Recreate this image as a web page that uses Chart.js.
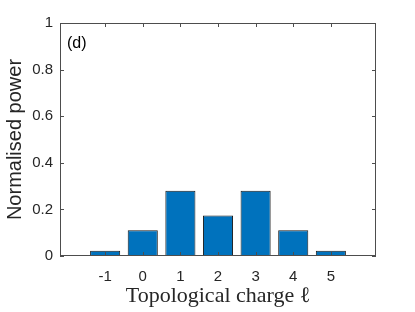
<!DOCTYPE html>
<html>
<head>
<meta charset="utf-8">
<script src="https://cdn.jsdelivr.net/npm/chart.js@4"></script>
<style>
  html, body { margin: 0; padding: 0; background: #fff; }
  #wrap { width: 415px; height: 312px; position: relative; }
</style>
</head>
<body>
<div id="wrap"><canvas id="chart"></canvas></div>
<script>
const charges = [-1, 0, 1, 2, 3, 4, 5];
const power = [0.023, 0.11, 0.28, 0.174, 0.28, 0.11, 0.023];
const xTicks = [-1, 0, 1, 2, 3, 4, 5];
const yTicks = [0, 0.2, 0.4, 0.6, 0.8, 1];
const panelLabel = '(d)';

const axisColor = '#4d4d4d';
const textColor = '#262626';

// box around the axes + inward ticks on all four sides, like matlab
const boxPlugin = {
    id: 'box',
    afterDatasetsDraw(chart) {
        const { ctx, chartArea: a, scales } = chart;
        const len = 4;
        ctx.save();
        ctx.strokeStyle = axisColor;
        ctx.lineWidth = 1;
        ctx.strokeRect(a.left + 0.5, a.top + 0.5, a.right - a.left - 1, a.bottom - a.top - 1);
        ctx.beginPath();
        xTicks.forEach(v => {
            const x = Math.round(scales.x.getPixelForValue(v)) + 0.5;
            ctx.moveTo(x, a.bottom); ctx.lineTo(x, a.bottom - len);
            ctx.moveTo(x, a.top); ctx.lineTo(x, a.top + len);
        });
        yTicks.forEach(v => {
            const y = Math.round(scales.y.getPixelForValue(v)) + 0.5;
            ctx.moveTo(a.left, y); ctx.lineTo(a.left + len, y);
            ctx.moveTo(a.right, y); ctx.lineTo(a.right - len, y);
        });
        ctx.stroke();

        ctx.fillStyle = '#000';
        ctx.font = '16px "Liberation Sans", Arial, sans-serif';
        ctx.textBaseline = 'middle';
        ctx.fillText(panelLabel, a.left + 7, a.top + 21);
        ctx.restore();
    }
};

new Chart(document.getElementById('chart'), {
    type: 'bar',
    data: {
        datasets: [{
            data: charges.map((c, i) => ({ x: c, y: power[i] })),
            backgroundColor: '#0072BD',
            borderColor: '#1a1a1a',
            borderWidth: 1,
            barPercentage: 0.8,
            categoryPercentage: 1.0
        }]
    },
    options: {
        responsive: true,
        maintainAspectRatio: false,
        animation: false,
        layout: { padding: { top: 23, right: 39, left: 0, bottom: 0 } },
        plugins: { legend: { display: false }, tooltip: { enabled: false } },
        scales: {
            x: {
                type: 'linear',
                offset: false,
                min: -2.2,
                max: 6.2,
                afterFit: s => { s.height = 56; },
                afterBuildTicks: s => { s.ticks = xTicks.map(v => ({ value: v })); },
                grid: { display: false, drawTicks: false, offset: false },
                border: { display: false },
                ticks: {
                    color: textColor,
                    padding: 12,
                    font: { family: '"Liberation Sans", Arial, sans-serif', size: 15 },
                    callback: v => String(v)
                },
                title: {
                    display: true,
                    text: 'Topological charge ℓ',
                    color: textColor,
                    padding: { top: 0, bottom: 3 },
                    font: { family: '"Liberation Serif", "Times New Roman", serif', size: 22 }
                }
            },
            y: {
                min: 0,
                max: 1,
                afterFit: s => { s.width = 60; },
                afterBuildTicks: s => { s.ticks = yTicks.map(v => ({ value: v })); },
                grid: { display: false, drawTicks: false },
                border: { display: false },
                ticks: {
                    color: textColor,
                    padding: 7,
                    font: { family: '"Liberation Sans", Arial, sans-serif', size: 15 },
                    callback: v => String(v)
                },
                title: {
                    display: true,
                    text: 'Normalised power',
                    color: textColor,
                    padding: { top: 3, bottom: 0 },
                    font: { family: '"Liberation Sans", Arial, sans-serif', size: 20 }
                }
            }
        }
    },
    plugins: [boxPlugin]
});
</script>
</body>
</html>
